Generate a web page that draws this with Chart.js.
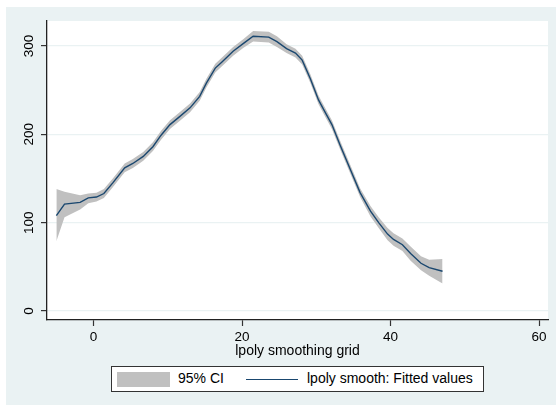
<!DOCTYPE html>
<html>
<head>
<meta charset="utf-8">
<script src="https://cdn.jsdelivr.net/npm/chart.js@4/dist/chart.umd.min.js"></script>
<style>
  html, body { margin:0; padding:0; background:#fff; }
  #wrap { position:relative; width:556px; height:406px; overflow:hidden; }
  #bg { position:absolute; left:6px; top:7px; width:550px; height:398px; background:#eaf2f3; }
  #c { position:absolute; left:0; top:0; }
  #legend { position:absolute; left:111px; top:366px; width:371px; height:24px; background:#fff;
            border:1px solid #333; font-family:"Liberation Sans", Arial, sans-serif; font-size:14px; color:#000; }
  .sw1 { position:absolute; left:5px; top:5px; width:53px; height:15px; background:#c0c0c0; }
  .t1 { position:absolute; left:66px; top:3px; white-space:nowrap; }
  .sw2 { position:absolute; left:134px; top:12px; width:52px; height:0; border-top:1.3px solid #1a476f; }
  .t2 { position:absolute; left:195px; top:3px; white-space:nowrap; }
</style>
</head>
<body>
<div id="wrap">
  <div id="bg"></div>
  <canvas id="c" width="556" height="406"></canvas>
  <div id="legend">
    <div class="sw1"></div><div class="t1">95% CI</div>
    <div class="sw2"></div><div class="t2">lpoly smooth: Fitted values</div>
  </div>
</div>
<script>
// grid points (x), fitted values and 95% CI bounds
const gridX = [-5.0,-3.9,-1.8,-0.7,0.4,1.4,2.6,4.2,5.3,6.7,8.0,9.1,10.3,11.6,13.0,14.3,15.2,16.4,17.3,18.8,20.2,21.5,23.6,24.7,26.0,27.2,28.1,29.2,30.3,31.0,32.1,33.2,34.6,35.9,37.3,38.4,39.6,40.4,41.6,42.7,44.1,45.2,47.0];
const fitted = [108,121,123,128,129,133,145,162,167,175,186,199,211,220,230,243,258,275,282,294,303,311,310,305,297,292,284,263,239,228,211,188,160,134,113,100,87,81,75,65,54,49,45];
const ciLow  = [79,106,115,122,124,128,140,157,162,170,181,194,206,215,225,238,253,270,277,289,298,305,304,299,292,287,279,258,234,223,206,183,155,129,107,94,80,74,68,57,46,40,31];
const ciHigh = [138,135,131,133,134,138,150,167,172,180,191,204,216,225,235,248,263,280,287,299,308,317,316,311,302,297,289,268,244,233,216,193,165,139,119,106,94,88,82,73,62,58,59];
const xTicks = [0,20,40,60];
const yTicks = [0,100,200,300];
const xTitle = "lpoly smoothing grid";

const pts = arr => arr.map((v,i)=>({x:gridX[i], y:v}));
const FONT = "'Liberation Sans', Arial, sans-serif";

const plotBg = {
  id:'plotBg',
  beforeDraw(chart){
    const {ctx, chartArea:a} = chart;
    ctx.save(); ctx.fillStyle='#fff';
    ctx.fillRect(a.left, a.top, a.right-a.left, a.bottom-a.top);
    ctx.restore();
  }
};

new Chart(document.getElementById('c'), {
  type:'line',
  data:{
    datasets:[
      {label:'lpoly smooth: Fitted values', data:pts(fitted), borderColor:'#1a476f', borderWidth:1.4, pointRadius:0, fill:false, tension:0},
      {label:'lower', data:pts(ciLow), borderWidth:0, borderColor:'rgba(0,0,0,0)', pointRadius:0, fill:false, tension:0},
      {label:'95% CI', data:pts(ciHigh), borderWidth:0, borderColor:'rgba(0,0,0,0)', backgroundColor:'#c0c0c0', pointRadius:0, fill:'-1', tension:0}
    ]
  },
  options:{
    responsive:false, animation:false, devicePixelRatio:1,
    layout:{padding:{top:21, right:8, left:0, bottom:46}},
    plugins:{legend:{display:false}, tooltip:{enabled:false}},
    scales:{
      x:{
        type:'linear', min:-6.26, max:61.2,
        afterBuildTicks(s){ s.ticks = xTicks.map(v=>({value:v})); },
        afterFit(s){ s.height = 40; },
        grid:{drawOnChartArea:false, tickLength:6, tickColor:'#333', tickWidth:1.2},
        border:{color:'#222', width:1.3},
        ticks:{font:{family:FONT, size:13.5}, color:'#000', padding:3, maxRotation:0},
        title:{display:true, text:xTitle, font:{family:FONT, size:14}, color:'#000', padding:{top:0,bottom:0}}
      },
      y:{
        type:'linear', min:-10.2, max:328.3,
        afterBuildTicks(s){ s.ticks = yTicks.map(v=>({value:v})); },
        afterFit(s){ s.width = 47; },
        grid:{color:'#eaf2f3', lineWidth:1.2, tickLength:6, tickColor:'#333', tickWidth:1.2},
        border:{color:'#222', width:1.3},
        ticks:{font:{family:FONT, size:13.5}, color:'#000', padding:0, minRotation:90, maxRotation:90, crossAlign:'center'}
      }
    }
  },
  plugins:[plotBg]
});
</script>
</body>
</html>
